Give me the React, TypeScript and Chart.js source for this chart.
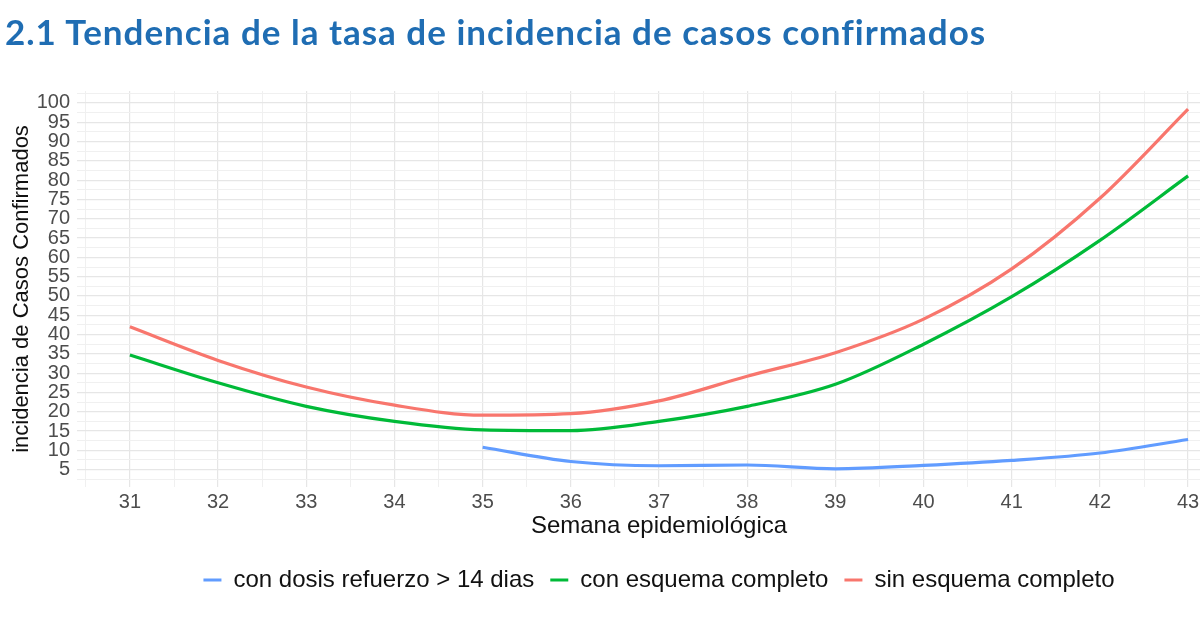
import React, { useEffect, useRef } from "react";
import { Chart, registerables } from "chart.js";

Chart.register(...registerables);

// ---- data ----
const weeks = [31, 32, 33, 34, 35, 36, 37, 38, 39, 40, 41, 42, 43];
const conDosisRefuerzo: (number | null)[] = [null, null, null, null, 10.8, 7.1, 6.0, 6.2, 5.2, 6.1, 7.4, 9.3, 12.8];
const conEsquemaCompleto = [34.7, 27.5, 21.4, 17.5, 15.3, 15.1, 17.5, 21.4, 27.1, 37.5, 49.8, 64.4, 81.1];
const sinEsquemaCompleto = [42.0, 33.3, 26.4, 21.7, 19.1, 19.5, 22.8, 29.2, 35.3, 44.0, 57.0, 75.3, 98.4];
const seriesLabels = ["con dosis refuerzo > 14 dias", "con esquema completo", "sin esquema completo"];
const seriesColors = ["#619CFF", "#00BA38", "#F8766D"];
const yTickLabels = [5, 10, 15, 20, 25, 30, 35, 40, 45, 50, 55, 60, 65, 70, 75, 80, 85, 90, 95, 100];
const xTickLabels = weeks;
const chartTitle = "2.1 Tendencia de la tasa de incidencia de casos confirmados";
const xTitle = "Semana epidemiológica";
const yTitle = "incidencia de Casos Confirmados";

const FONT = "'Liberation Sans', Arial, sans-serif";

function toPoints(vals: (number | null)[]) {
  return weeks
    .map((w, i) => ({ x: w, y: vals[i] }))
    .filter((p) => p.y !== null && p.y !== undefined);
}

export default function App() {
  const canvasRef = useRef<HTMLCanvasElement | null>(null);

  useEffect(() => {
    if (!canvasRef.current) return;
    const seriesValues = [conDosisRefuerzo, conEsquemaCompleto, sinEsquemaCompleto];
    const chart = new Chart(canvasRef.current, {
      type: "line",
      data: {
        datasets: seriesValues.map((vals, i) => ({
          label: seriesLabels[i],
          data: toPoints(vals) as any,
          borderColor: seriesColors[i],
          backgroundColor: seriesColors[i],
          borderWidth: 3.2,
          pointRadius: 0,
          fill: false,
          cubicInterpolationMode: "monotone" as const,
        })),
      },
      options: {
        animation: false,
        responsive: false,
        layout: { padding: { top: 91, right: 4, bottom: 31, left: 0 } },
        plugins: {
          title: { display: false },
          tooltip: { enabled: false },
          legend: {
            position: "bottom",
            fullSize: false,
            labels: {
              boxWidth: 18,
              boxHeight: 3,
              padding: 16,
              color: "#111111",
              font: { family: FONT, size: 24 },
              generateLabels: (c: any) =>
                c.data.datasets.map((ds: any, i: number) => ({
                  text: ds.label,
                  fillStyle: ds.borderColor,
                  strokeStyle: ds.borderColor,
                  lineWidth: 0,
                  hidden: false,
                  datasetIndex: i,
                  fontColor: "#111111",
                })),
            },
          },
        },
        scales: {
          x: {
            type: "linear",
            min: 30.4,
            max: 43.6,
            border: { display: false },
            afterFit: (s: any) => {
              s.height = 65;
            },
            grid: {
              drawTicks: false,
              color: (ctx: any) =>
                ctx.tick && Number.isInteger(ctx.tick.value) ? "#e6e6e6" : "#f0f0f0",
              lineWidth: (ctx: any) => (ctx.tick && Number.isInteger(ctx.tick.value) ? 1.2 : 1),
            },
            ticks: {
              stepSize: 0.5,
              includeBounds: false,
              autoSkip: false,
              maxRotation: 0,
              padding: 3,
              color: "#4d4d4d",
              font: { family: FONT, size: 20 },
              callback: (v: any) => (xTickLabels.includes(Number(v)) ? String(v) : ""),
            },
            title: {
              display: true,
              text: xTitle,
              color: "#111111",
              font: { family: FONT, size: 24 },
              padding: { top: 0, bottom: 11 },
            },
          },
          y: {
            type: "linear",
            min: 0.5,
            max: 103.1,
            border: { display: false },
            afterFit: (s: any) => {
              s.width = 77;
            },
            grid: {
              drawTicks: false,
              color: (ctx: any) =>
                ctx.tick && ctx.tick.value % 5 === 0 ? "#e6e6e6" : "#f0f0f0",
              lineWidth: (ctx: any) => (ctx.tick && ctx.tick.value % 5 === 0 ? 1.2 : 1),
            },
            ticks: {
              stepSize: 2.5,
              includeBounds: false,
              autoSkip: false,
              padding: 7,
              color: "#4d4d4d",
              font: { family: FONT, size: 20 },
              callback: (v: any) => (yTickLabels.includes(Number(v)) ? String(v) : ""),
            },
            title: {
              display: true,
              text: yTitle,
              color: "#111111",
              font: { family: FONT, size: 22 },
              padding: { top: 9, bottom: 0 },
            },
          },
        },
      },
    });
    return () => chart.destroy();
  }, []);

  return (
    <div
      style={{
        position: "fixed",
        left: 0,
        top: 0,
        width: 1200,
        height: 633,
        overflow: "hidden",
        background: "#ffffff",
      }}
    >
      <canvas ref={canvasRef} width={1245} height={633} style={{ position: "absolute", left: 0, top: 0 }} />
      <div
        style={{
          position: "absolute",
          left: 5,
          top: 11,
          fontFamily: "Lato, 'Open Sans', sans-serif",
          fontWeight: 700,
          fontSize: 35,
          letterSpacing: 1,
          color: "#1f6db3",
          whiteSpace: "nowrap",
          lineHeight: "40px",
        }}
      >
        {chartTitle}
      </div>
    </div>
  );
}
